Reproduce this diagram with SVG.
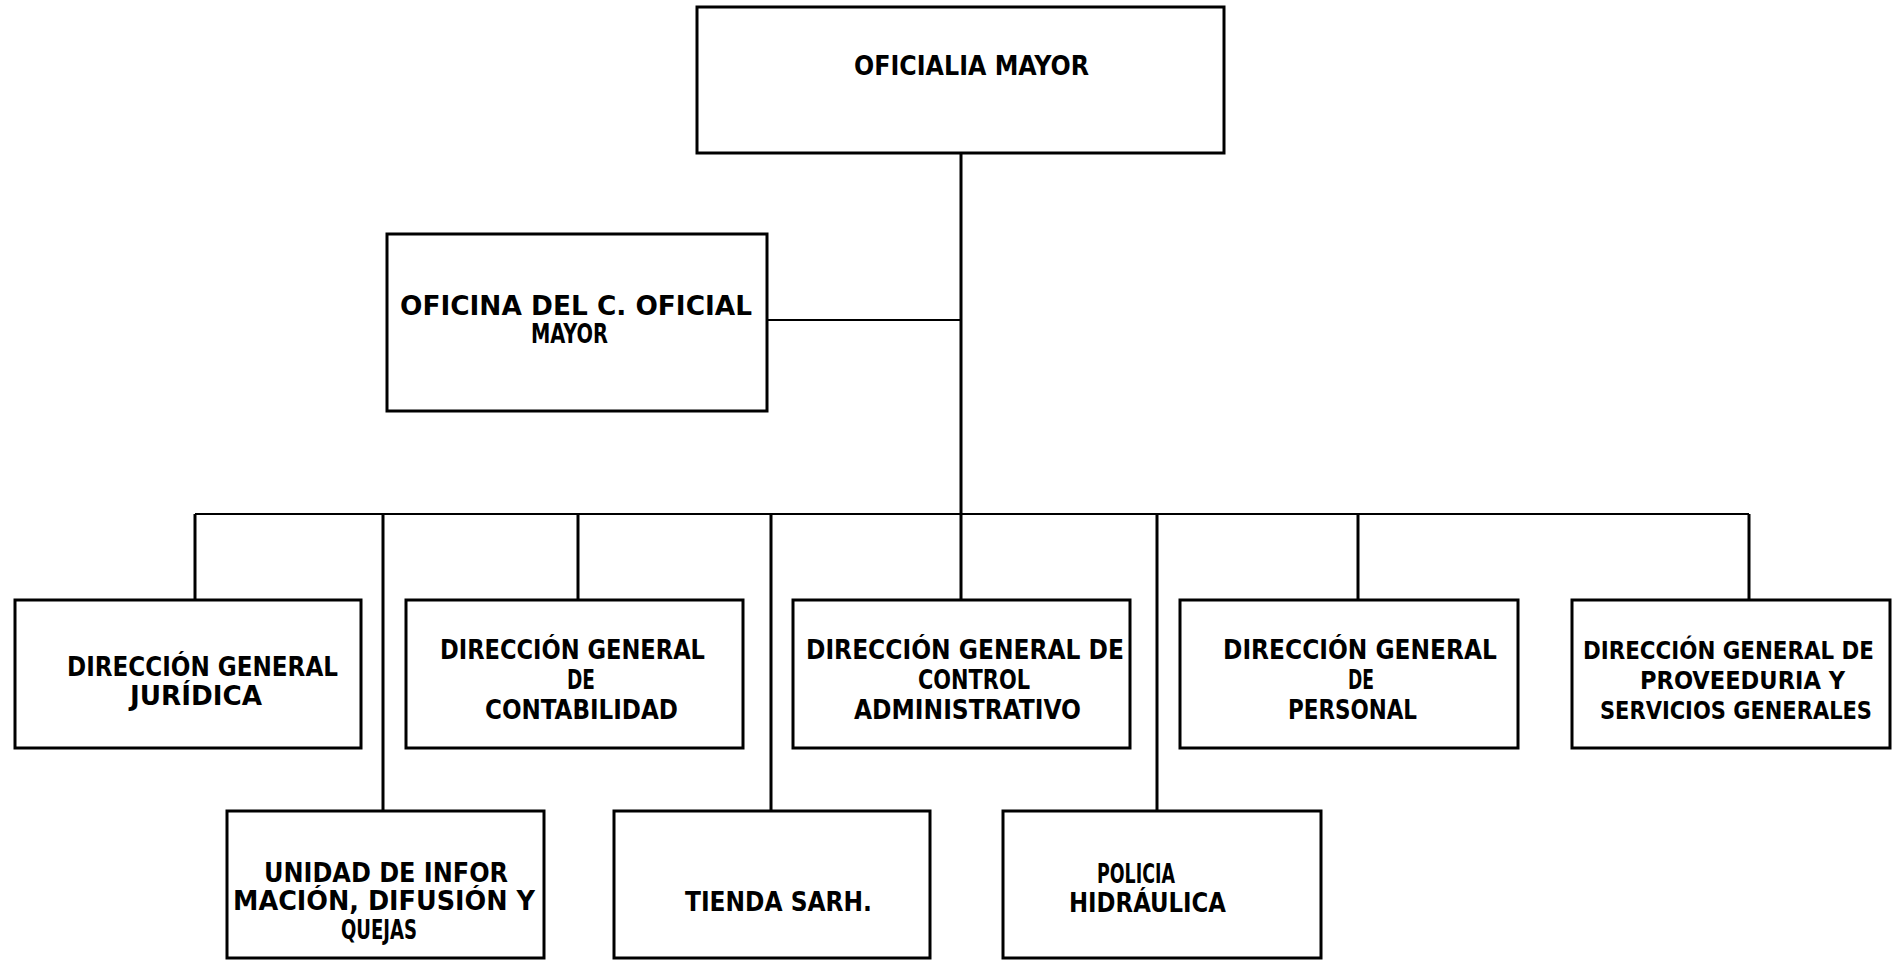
<svg xmlns="http://www.w3.org/2000/svg" width="1904" height="962" viewBox="0 0 1904 962">
<style>
.box{fill:#fff;stroke:#000;stroke-width:3}
.v{stroke:#000;stroke-width:3;fill:none}
.h{stroke:#000;stroke-width:2;fill:none}
text{font-family:"DejaVu Sans Condensed","DejaVu Sans","Liberation Sans",sans-serif;font-weight:bold;font-size:27px;fill:#000}
.sm{font-size:25px}
</style>
<rect width="1904" height="962" fill="#fff"/>
<g id="connectors">
<line class="v" x1="961" y1="153" x2="961" y2="600"/>
<line class="h" x1="767" y1="320" x2="961" y2="320"/>
<line class="h" x1="195" y1="514" x2="1749" y2="514"/>
<line class="v" x1="195" y1="514" x2="195" y2="600"/>
<line class="v" x1="383" y1="514" x2="383" y2="811"/>
<line class="v" x1="578" y1="514" x2="578" y2="600"/>
<line class="v" x1="771" y1="514" x2="771" y2="811"/>
<line class="v" x1="1157" y1="514" x2="1157" y2="811"/>
<line class="v" x1="1358" y1="514" x2="1358" y2="600"/>
<line class="v" x1="1749" y1="514" x2="1749" y2="600"/>
</g>
<g id="oficialia-mayor">
<rect class="box" x="697" y="7" width="527" height="146"/>
<text x="854" y="75" textLength="235" lengthAdjust="spacingAndGlyphs">OFICIALIA MAYOR</text>
</g>
<g id="oficina-oficial-mayor">
<rect class="box" x="387" y="234" width="380" height="177"/>
<text x="400" y="315" textLength="352" lengthAdjust="spacingAndGlyphs">OFICINA DEL C. OFICIAL</text>
<text x="531" y="343" textLength="77" lengthAdjust="spacingAndGlyphs">MAYOR</text>
</g>
<g id="dg-juridica">
<rect class="box" x="15" y="600" width="346" height="148"/>
<text x="67" y="676" textLength="271" lengthAdjust="spacingAndGlyphs">DIRECCIÓN GENERAL</text>
<text x="130" y="705" textLength="132" lengthAdjust="spacingAndGlyphs">JURÍDICA</text>
</g>
<g id="dg-contabilidad">
<rect class="box" x="406" y="600" width="337" height="148"/>
<text x="440" y="659" textLength="265" lengthAdjust="spacingAndGlyphs">DIRECCIÓN GENERAL</text>
<text x="567" y="689" textLength="28" lengthAdjust="spacingAndGlyphs">DE</text>
<text x="485" y="719" textLength="193" lengthAdjust="spacingAndGlyphs">CONTABILIDAD</text>
</g>
<g id="dg-control-administrativo">
<rect class="box" x="793" y="600" width="337" height="148"/>
<text x="806" y="659" textLength="318" lengthAdjust="spacingAndGlyphs">DIRECCIÓN GENERAL DE</text>
<text x="918" y="689" textLength="112" lengthAdjust="spacingAndGlyphs">CONTROL</text>
<text x="854" y="719" textLength="227" lengthAdjust="spacingAndGlyphs">ADMINISTRATIVO</text>
</g>
<g id="dg-personal">
<rect class="box" x="1180" y="600" width="338" height="148"/>
<text x="1223" y="659" textLength="274" lengthAdjust="spacingAndGlyphs">DIRECCIÓN GENERAL</text>
<text x="1348" y="689" textLength="26" lengthAdjust="spacingAndGlyphs">DE</text>
<text x="1288" y="719" textLength="129" lengthAdjust="spacingAndGlyphs">PERSONAL</text>
</g>
<g id="dg-proveeduria">
<rect class="box" x="1572" y="600" width="318" height="148"/>
<text class="sm" x="1583" y="659" textLength="291" lengthAdjust="spacingAndGlyphs">DIRECCIÓN GENERAL DE</text>
<text class="sm" x="1640" y="689" textLength="205" lengthAdjust="spacingAndGlyphs">PROVEEDURIA Y</text>
<text class="sm" x="1600" y="719" textLength="272" lengthAdjust="spacingAndGlyphs">SERVICIOS GENERALES</text>
</g>
<g id="unidad-informacion">
<rect class="box" x="227" y="811" width="317" height="147"/>
<text x="264" y="882" textLength="244" lengthAdjust="spacingAndGlyphs">UNIDAD DE INFOR</text>
<text x="233" y="910" textLength="302" lengthAdjust="spacingAndGlyphs">MACIÓN, DIFUSIÓN Y</text>
<text x="341" y="939" textLength="76" lengthAdjust="spacingAndGlyphs">QUEJAS</text>
</g>
<g id="tienda-sarh">
<rect class="box" x="614" y="811" width="316" height="147"/>
<text x="685" y="911" textLength="187" lengthAdjust="spacingAndGlyphs">TIENDA SARH.</text>
</g>
<g id="policia-hidraulica">
<rect class="box" x="1003" y="811" width="318" height="147"/>
<text x="1097" y="883" textLength="78" lengthAdjust="spacingAndGlyphs">POLICIA</text>
<text x="1069" y="912" textLength="157" lengthAdjust="spacingAndGlyphs">HIDRÁULICA</text>
</g>
</svg>
